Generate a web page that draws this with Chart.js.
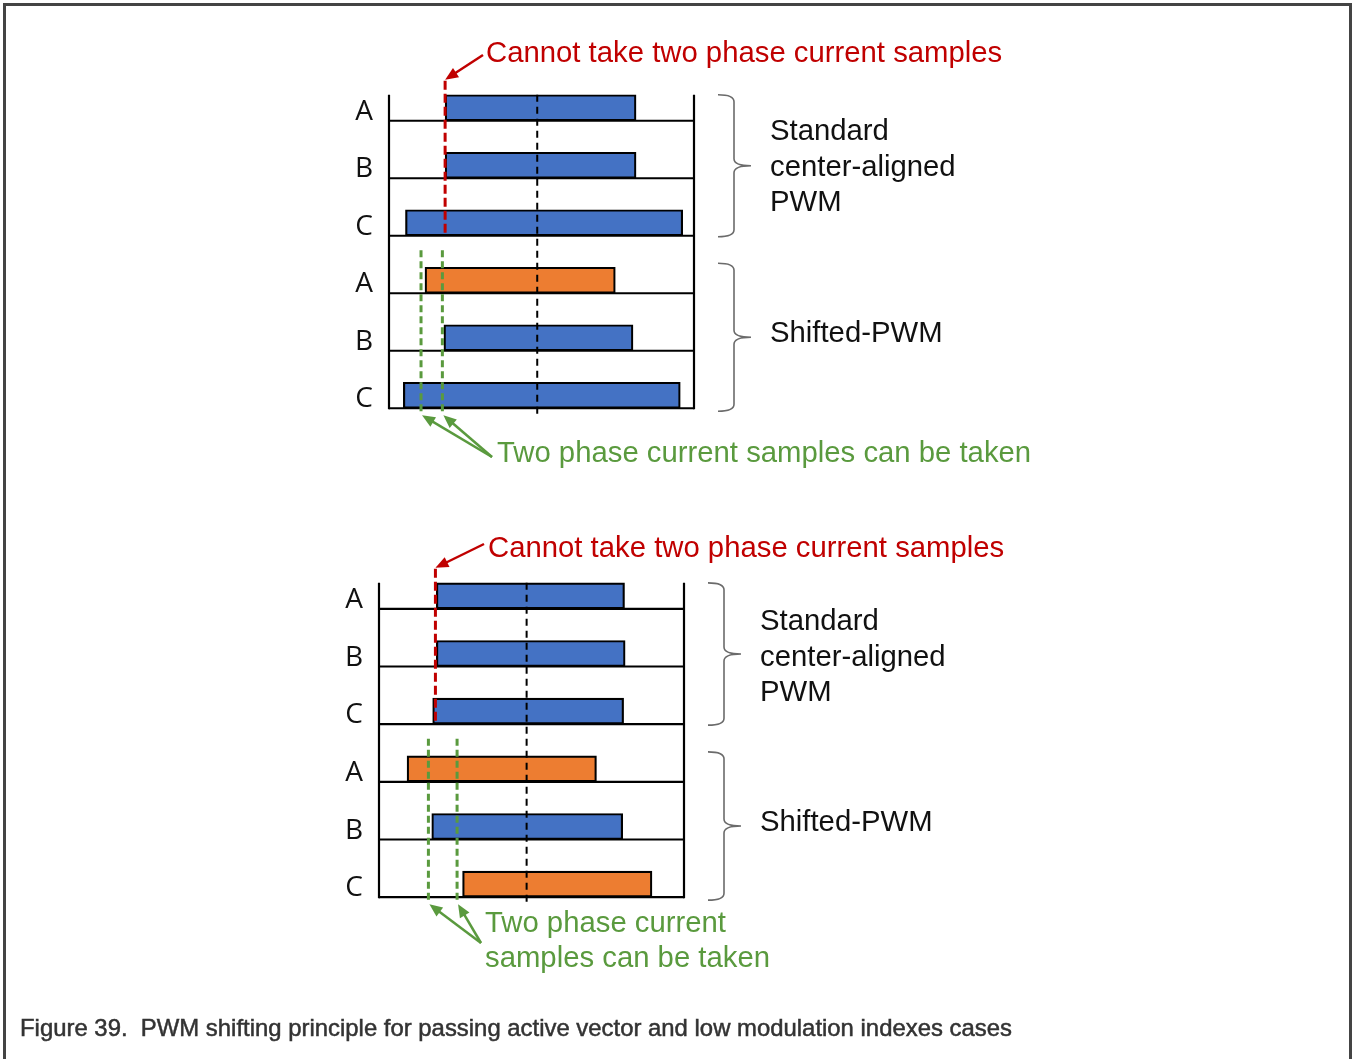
<!DOCTYPE html>
<html>
<head>
<meta charset="utf-8">
<script src="https://cdn.jsdelivr.net/npm/chart.js@4.4.1/dist/chart.umd.min.js"></script>
<style>
  html, body { margin: 0; padding: 0; background: #fff; }
  #page { position: relative; width: 1352px; height: 1059px; overflow: hidden; }
  #frame { position: absolute; left: 3px; top: 3px; width: 1343px; height: 1070px;
           border: 3px solid #444; border-bottom: none; }
  .layer { position: absolute; left: 0; top: 0; width: 1352px; height: 1059px; }
  #caption { position: absolute; left: 20px; top: 1014px; font: 23.9px "Liberation Sans", Arial, sans-serif;
             color: #333; -webkit-text-stroke: 0.5px #333; white-space: nowrap; }
</style>
</head>
<body>
<div id="page">
  <div id="frame"></div>
  <div class="layer"><canvas id="topChart"></canvas></div>
  <div class="layer"><canvas id="botChart"></canvas></div>
  <div id="caption">Figure 39.&nbsp; PWM shifting principle for passing active vector and low modulation indexes cases</div>
</div>
<script>
// ----- data -----
const rows = ["A", "B", "C", "A", "B", "C"];
const groupStd = ["Standard", "center-aligned", "PWM"];
const groupShift = ["Shifted-PWM"];
const noteRed = ["Cannot take two phase current samples"];
const noteGreenTop = ["Two phase current samples can be taken"];
const noteGreenBot = ["Two phase current", "samples can be taken"];

// top diagram (x = % of PWM period)
const topStart = [18.4, 18.4, 5.4, 11.8, 18.0, 4.7];
const topEnd   = [81.0, 81.0, 96.3, 74.2, 80.0, 95.5];
const topPhase = ["std", "std", "std", "shift", "std", "std"];
const topCenter = 48.6;
const topNoSample = 18.4;
const topSamples = [10.5, 17.5];

// bottom diagram
const botStart = [18.8, 18.8, 17.6, 9.2, 17.3, 27.4];
const botEnd   = [80.5, 80.7, 80.2, 71.3, 79.9, 89.5];
const botPhase = ["std", "std", "std", "shift", "std", "shift"];
const botCenter = 48.4;
const botNoSample = 18.5;
const botSamples = [16.2, 25.6];

// ----- style -----
const BLUE = "#4472C4", ORANGE = "#ED7D31", RED = "#C00000", GREEN = "#5A9A3E", GREY = "#6b6b6b";
const SANS = '"Liberation Sans", Arial, sans-serif';

function arrow(ctx, x1, y1, x2, y2, color) {
  const a = Math.atan2(y2 - y1, x2 - x1), L = 13, W = 5.5;
  ctx.save();
  ctx.strokeStyle = color; ctx.fillStyle = color; ctx.lineWidth = 2.5; ctx.setLineDash([]);
  ctx.beginPath(); ctx.moveTo(x1, y1);
  ctx.lineTo(x2 - Math.cos(a) * L * 0.8, y2 - Math.sin(a) * L * 0.8); ctx.stroke();
  ctx.beginPath(); ctx.moveTo(x2, y2);
  ctx.lineTo(x2 - L * Math.cos(a) + W * Math.sin(a), y2 - L * Math.sin(a) - W * Math.cos(a));
  ctx.lineTo(x2 - L * Math.cos(a) - W * Math.sin(a), y2 - L * Math.sin(a) + W * Math.cos(a));
  ctx.closePath(); ctx.fill();
  ctx.restore();
}

function brace(ctx, x0, xm, xt, top, bot) {
  const mid = (top + bot) / 2, r = 7;
  ctx.save();
  ctx.strokeStyle = GREY; ctx.lineWidth = 1.6; ctx.setLineDash([]);
  ctx.beginPath();
  ctx.moveTo(x0, top);
  ctx.quadraticCurveTo(xm, top, xm, top + r);
  ctx.lineTo(xm, mid - r);
  ctx.quadraticCurveTo(xm, mid, xt, mid);
  ctx.quadraticCurveTo(xm, mid, xm, mid + r);
  ctx.lineTo(xm, bot - r);
  ctx.quadraticCurveTo(xm, bot, x0, bot);
  ctx.stroke();
  ctx.restore();
}

function vdash(ctx, x, y1, y2, color, w, dash) {
  ctx.save();
  ctx.strokeStyle = color; ctx.lineWidth = w; ctx.setLineDash(dash);
  ctx.beginPath(); ctx.moveTo(x, y1); ctx.lineTo(x, y2); ctx.stroke();
  ctx.restore();
}

function lines(ctx, arr, x, y, lh, color) {
  ctx.save();
  ctx.fillStyle = color; ctx.font = "29.3px " + SANS; ctx.textAlign = "left"; ctx.textBaseline = "alphabetic";
  arr.forEach((t, i) => ctx.fillText(t, x, y + i * lh));
  ctx.restore();
}

// draws frame, baselines, markers and notes from the chart's own scales
const pwmPlugin = {
  id: "pwm",
  beforeDatasetsDraw(chart) {
    const ctx = chart.ctx, a = chart.chartArea, bars = chart.getDatasetMeta(0).data;
    ctx.save();
    ctx.strokeStyle = "#000"; ctx.lineWidth = 2.2;
    bars.forEach(b => {
      const yb = b.y + b.height / 2;
      ctx.beginPath(); ctx.moveTo(a.left, yb); ctx.lineTo(a.right, yb); ctx.stroke();
    });
    const yTop = bars[0].y - bars[0].height / 2, yBot = bars[5].y + bars[5].height / 2;
    ctx.beginPath();
    ctx.moveTo(a.left, yTop); ctx.lineTo(a.left, yBot + 1);
    ctx.moveTo(a.right, yTop); ctx.lineTo(a.right, yBot + 1);
    ctx.stroke();
    ctx.restore();
  },
  afterDatasetsDraw(chart, args, o) {
    const ctx = chart.ctx, x = chart.scales.x, bars = chart.getDatasetMeta(0).data;
    const top = i => bars[i].y - bars[i].height / 2, base = i => bars[i].y + bars[i].height / 2;
    // period centre
    vdash(ctx, x.getPixelForValue(o.center), top(0), base(5) + 7, "#000", 2, [7, 5]);
    // no-sample edge
    const xr = x.getPixelForValue(o.noSample);
    vdash(ctx, xr, top(0) - 14, base(2), RED, 3, [9, 4]);
    arrow(ctx, o.redTail[0], o.redTail[1], xr, top(0) - 15, RED);
    lines(ctx, noteRed, o.redText[0], o.redText[1], 0, RED);
    // sample windows
    o.samples.forEach(v => {
      const xg = x.getPixelForValue(v);
      vdash(ctx, xg, top(3) - 17, base(5) + 6, GREEN, 3, [7, 4]);
      arrow(ctx, o.greenTail[0], o.greenTail[1], xg + 1, base(5) + 7, GREEN);
    });
    lines(ctx, o.greenNote, o.greenText[0], o.greenText[1], 35, GREEN);
    // row labels
    ctx.save();
    ctx.fillStyle = "#111"; ctx.font = '28px "Open Sans", sans-serif'; ctx.textAlign = "center";
    rows.forEach((r, i) => ctx.fillText(r, chart.chartArea.left - 25, bars[i].y + 12));
    ctx.restore();
    // braces + group names
    const bx = chart.chartArea.right;
    brace(ctx, bx + 24, bx + 40, bx + 57, top(0), base(2) + 1);
    brace(ctx, bx + 24, bx + 40, bx + 57, top(3) - 4, base(5) + 3);
    lines(ctx, groupStd, bx + o.labelDx, o.stdY, 35.5, "#111");
    lines(ctx, groupShift, bx + o.labelDx, o.shiftY, 0, "#111");
  }
};

function makeChart(id, start, end, phase, pad, opts) {
  return new Chart(document.getElementById(id), {
    type: "bar",
    data: {
      labels: rows,
      datasets: [{
        data: start.map((s, i) => [s, end[i]]),
        backgroundColor: phase.map(p => p === "shift" ? ORANGE : BLUE),
        borderColor: "#000",
        borderWidth: 2.2,
        borderSkipped: false,
        barThickness: 26
      }]
    },
    options: {
      indexAxis: "y",
      responsive: true,
      maintainAspectRatio: false,
      animation: false,
      events: [],
      layout: { padding: pad },
      scales: {
        x: { type: "linear", min: 0, max: 100, display: false },
        y: { type: "category", display: false }
      },
      plugins: { legend: { display: false }, tooltip: { enabled: false }, pwm: opts }
    },
    plugins: [pwmPlugin]
  });
}

makeChart("topChart", topStart, topEnd, topPhase,
  { left: 389, right: 658, top: 79, bottom: 635 },
  { center: topCenter, noSample: topNoSample, samples: topSamples,
    redTail: [483, 55], redText: [486, 62],
    greenTail: [492, 457], greenText: [497, 462], greenNote: noteGreenTop,
    labelDx: 76, stdY: 140, shiftY: 342 });

makeChart("botChart", botStart, botEnd, botPhase,
  { left: 379, right: 668, top: 567, bottom: 146 },
  { center: botCenter, noSample: botNoSample, samples: botSamples,
    redTail: [484, 544], redText: [488, 557],
    greenTail: [481, 943], greenText: [485, 932], greenNote: noteGreenBot,
    labelDx: 76, stdY: 630, shiftY: 831 });
</script>
</body>
</html>
